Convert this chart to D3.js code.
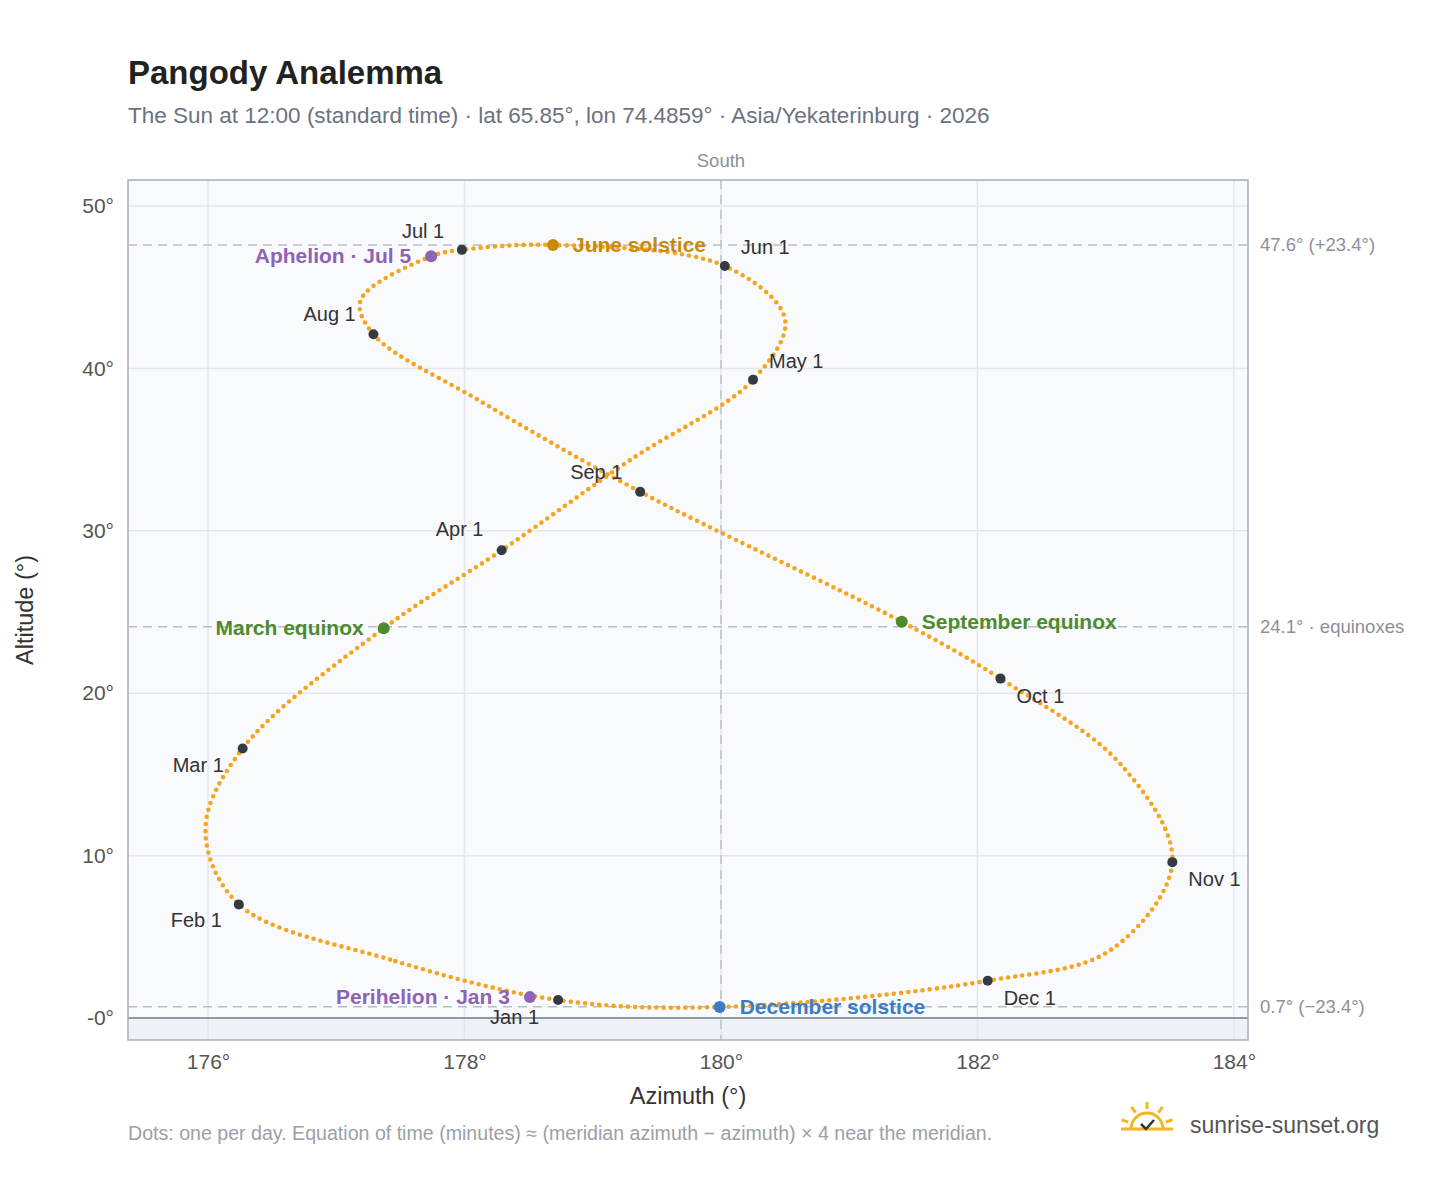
<!DOCTYPE html>
<html><head><meta charset="utf-8">
<script src="https://cdn.jsdelivr.net/npm/d3@7"></script>
<style>body{margin:0;background:#fff;font-family:"Liberation Sans",Arial,sans-serif}</style>
</head><body><svg id="c" width="1448" height="1188"></svg>
<script>
// path points (date, azimuth, altitude)
const days = ['Jan 1','Jan 15','Feb 1','Feb 15','Mar 1','Mar 20','Apr 1','Apr 15','May 1','May 15','Jun 1','Jun 21','Jul 1','Jul 5','Jul 25','Aug 1','Aug 15','Sep 1','Sep 22','Oct 1','Oct 15','Nov 1','Nov 15','Dec 1','Dec 21'];
const azim = [178.73,177.42,176.24,175.98,176.27,177.37,178.29,179.30,180.25,180.50,180.03,178.69,177.98,177.74,177.19,177.29,178.12,179.37,181.41,182.18,183.12,183.52,183.04,182.08,179.99];
const alti = [1.11,3.6,7.0,11.6,16.6,24.0,28.8,34.4,39.3,43.0,46.3,47.6,47.3,46.9,44.2,42.1,38.0,32.4,24.4,20.9,15.6,9.6,4.2,2.3,0.68];

const monthNames = ['Jan 1','Feb 1','Mar 1','Apr 1','May 1','Jun 1','Jul 1','Aug 1','Sep 1','Oct 1','Nov 1','Dec 1'];
const monthLabelOff = [[-68,24],[-68,23],[-70,24],[-66,-14],[16,-12],[16,-12],[-60,-12],[-70,-13],[-70,-13],[16,24],[16,24],[16,24]];
const events = [
  {d:'Jan 3', az:178.51, al:1.29, name:'Perihelion · Jan 3', c:'#8e62b5', side:'l'},
  {d:'Mar 20', az:177.37, al:24.0, name:'March equinox', c:'#4f8a2e', side:'l'},
  {d:'Jun 21', az:178.69, al:47.6, name:'June solstice', c:'#c98a0c', side:'r'},
  {d:'Jul 5', az:177.74, al:46.9, name:'Aphelion · Jul 5', c:'#8e62b5', side:'l'},
  {d:'Sep 22', az:181.41, al:24.4, name:'September equinox', c:'#4f8a2e', side:'r'},
  {d:'Dec 21', az:179.99, al:0.68, name:'December solstice', c:'#3b7cc4', side:'r'}
];
const refLines = [[47.6,'47.6° (+23.4°)'],[24.1,'24.1° · equinoxes'],[0.7,'0.7° (−23.4°)']];
const yTicks = [0,10,20,30,40,50];
const xTicks = [176,178,180,182,184];

const svg = d3.select('#c');
const L=128,R=1248,T=180,B=1040;
const x = d3.scaleLinear().domain([175.376,184.11]).range([L,R]);
const y = d3.scaleLinear().domain([-1.35,51.6]).range([B,T]);

svg.append('text').attr('x',128).attr('y',84).attr('font-size',33).attr('font-weight','bold').attr('fill','#222').text('Pangody Analemma');
svg.append('text').attr('x',128).attr('y',123).attr('font-size',22.5).attr('fill','#6b7280').text('The Sun at 12:00 (standard time) · lat 65.85°, lon 74.4859° · Asia/Yekaterinburg · 2026');

svg.append('rect').attr('x',L).attr('y',T).attr('width',R-L).attr('height',B-T).attr('fill','#f8fafd');
svg.append('rect').attr('x',L).attr('y',y(0)).attr('width',R-L).attr('height',B-y(0)).attr('fill','#eef2f6');

const g = svg.append('g');
g.selectAll('.gx').data(xTicks).join('line').attr('x1',x).attr('x2',x).attr('y1',T).attr('y2',B).attr('stroke','#e3e7ec').attr('stroke-width',1.5);
g.selectAll('.gy').data(yTicks).join('line').attr('y1',y).attr('y2',y).attr('x1',L).attr('x2',R).attr('stroke','#e3e7ec').attr('stroke-width',1.5);

refLines.forEach(([v,t])=>{
  svg.append('line').attr('x1',L).attr('x2',R).attr('y1',y(v)).attr('y2',y(v)).attr('stroke','#b9bec6').attr('stroke-width',1.5).attr('stroke-dasharray','9 6');
  svg.append('text').attr('x',1260).attr('y',y(v)+6).attr('font-size',18.5).attr('fill','#8b9099').text(t);
});
svg.append('line').attr('x1',x(180)).attr('x2',x(180)).attr('y1',T).attr('y2',B).attr('stroke','#b9c3cf').attr('stroke-width',1.5).attr('stroke-dasharray','9 6');
svg.append('text').attr('x',x(180)).attr('y',167).attr('text-anchor','middle').attr('font-size',18.5).attr('fill','#8b9099').text('South');
svg.append('line').attr('x1',L).attr('x2',R).attr('y1',y(0)).attr('y2',y(0)).attr('stroke','#8f99a6').attr('stroke-width',2);
svg.append('rect').attr('x',L).attr('y',T).attr('width',R-L).attr('height',B-T).attr('fill','none').attr('stroke','#a5aeb9').attr('stroke-width',1.5);

// axes
const ax = svg.append('g').attr('transform',`translate(0,${B})`).call(d3.axisBottom(x).tickValues(xTicks).tickFormat(d=>d+'°').tickSize(0).tickPadding(14));
const ay = svg.append('g').attr('transform',`translate(${L},0)`).call(d3.axisLeft(y).tickValues(yTicks).tickFormat(d=>(d===0?'-0':d)+'°').tickSize(0).tickPadding(14));
[ax,ay].forEach(a=>{a.select('.domain').remove();a.selectAll('text').attr('font-size',21).attr('fill','#555').attr('font-family','"Liberation Sans",Arial');});
svg.append('text').attr('x',688).attr('y',1104).attr('text-anchor','middle').attr('font-size',23.5).attr('fill','#333').text('Azimuth (°)');
svg.append('text').attr('transform','translate(33,610) rotate(-90)').attr('text-anchor','middle').attr('font-size',23.5).attr('fill','#333').text('Altitude (°)');

// analemma as dotted curve
const pts = azim.map((a,i)=>[x(a),y(alti[i])]);
svg.append('path').attr('d',d3.line().curve(d3.curveCatmullRomClosed.alpha(0.5))(pts))
  .attr('fill','none').attr('stroke','#f5a51c').attr('stroke-width',4.6).attr('stroke-linecap','round').attr('stroke-dasharray','0 7.2');

// month markers
monthNames.forEach((m,k)=>{
  const i = days.indexOf(m);
  const px=x(azim[i]), py=y(alti[i]);
  svg.append('circle').attr('cx',px).attr('cy',py).attr('r',5).attr('fill','#333a44');
  svg.append('text').attr('x',px+monthLabelOff[k][0]).attr('y',py+monthLabelOff[k][1]).attr('font-size',20).attr('fill','#333').text(m);
});
events.forEach(e=>{
  const px=x(e.az), py=y(e.al);
  svg.append('circle').attr('cx',px).attr('cy',py).attr('r',6).attr('fill',e.c);
  svg.append('text').attr('x',e.side==='r'?px+20:px-20).attr('y',py+7).attr('text-anchor',e.side==='r'?'start':'end')
    .attr('font-size',21).attr('font-weight','bold').attr('fill',e.c).text(e.name);
});

svg.append('text').attr('x',128).attr('y',1140).attr('font-size',19.6).attr('fill','#9aa0a8').text('Dots: one per day. Equation of time (minutes) ≈ (meridian azimuth − azimuth) × 4 near the meridian.');
// logo
const lg = svg.append('g').attr('transform','translate(1147,1125)');
lg.append('path').attr('d','M-16,4 A16,16 0 0 1 16,4').attr('fill','none').attr('stroke','#f5b81c').attr('stroke-width',3);
[-70,-35,0,35,70].forEach(a=>{const r=Math.PI*(a-90)/180;lg.append('line').attr('x1',Math.cos(r)*20).attr('y1',Math.sin(r)*20+4).attr('x2',Math.cos(r)*27).attr('y2',Math.sin(r)*27+4).attr('stroke','#f5b81c').attr('stroke-width',3);});
lg.append('line').attr('x1',-26).attr('x2',26).attr('y1',4).attr('y2',4).attr('stroke','#f5b81c').attr('stroke-width',3);
lg.append('path').attr('d','M-6,-1 L-1,4 L7,-5').attr('fill','none').attr('stroke','#333').attr('stroke-width',2.5);
svg.append('text').attr('x',1190).attr('y',1133).attr('font-size',23).attr('fill','#555').text('sunrise-sunset.org');
</script></body></html>
